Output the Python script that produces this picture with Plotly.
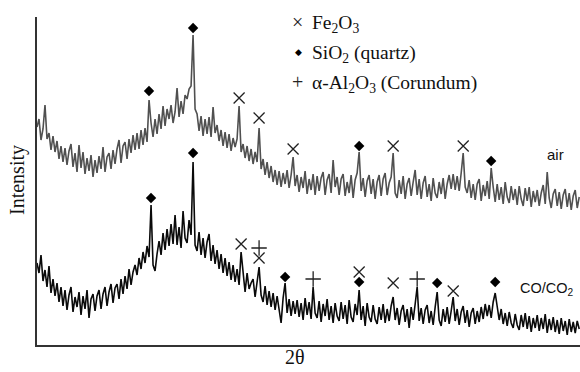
import numpy as np
import plotly.graph_objects as go

# scan grid (2-theta, degrees)
two_theta = np.linspace(10, 80, 272)

air = [
    218, 226, 205, 216, 240, 206, 212, 195, 209, 193,
    204, 186, 199, 183, 197, 180, 194, 201, 178, 192,
    173, 200, 177, 193, 171, 187, 174, 190, 168, 185,
    172, 189, 176, 198, 173, 188, 192, 176, 195, 181,
    196, 205, 182, 199, 203, 186, 206, 192, 210, 195,
    212, 196, 215, 200, 217, 203, 245, 222, 208, 226,
    211, 231, 216, 239, 219, 236, 226, 240, 222, 233,
    257, 228, 244, 231, 250, 246, 256, 259, 310, 236,
    231, 214, 229, 209, 226, 211, 228, 208, 238, 212,
    220, 204, 215, 199, 213, 197, 211, 194, 207, 198,
    206, 239, 193, 201, 187, 199, 184, 196, 181, 193,
    183, 217, 176, 186, 170, 183, 167, 179, 163, 175,
    160, 174, 158, 172, 161, 175, 157, 170, 188, 159,
    170, 153, 168, 157, 174, 151, 166, 155, 171, 150,
    169, 154, 167, 173, 150, 165, 171, 152, 185, 158,
    168, 150, 166, 171, 149, 163, 152, 170, 147, 165,
    172, 193, 154, 167, 148, 164, 170, 151, 166, 146,
    163, 170, 149, 166, 172, 150, 162, 168, 192, 152,
    147, 165, 151, 169, 146, 161, 167, 149, 163, 175,
    150, 166, 146, 162, 169, 148, 161, 144, 167, 152,
    147, 163, 151, 167, 146, 161, 170, 156, 171, 155,
    169, 154, 172, 192, 158, 152, 165, 147, 161, 145,
    161, 166, 144, 160, 149, 164, 146, 177, 158, 143,
    161, 145, 158, 141, 163, 148, 142, 159, 145, 156,
    140, 159, 146, 139, 157, 144, 158, 138, 154, 143,
    155, 139, 152, 160, 141, 173, 147, 137, 151, 156,
    139, 153, 136, 150, 156, 138, 152, 135, 149, 155,
    137, 148,
]

co_co2 = [
    82, 72, 90, 64, 75, 58, 79, 52, 66, 49,
    62, 43, 58, 39, 55, 35, 50, 58, 33, 48,
    38, 53, 30, 49, 36, 55, 27, 46, 51, 34,
    49, 55, 36, 51, 58, 39, 53, 61, 42, 57,
    61, 46, 66, 51, 69, 56, 76, 60, 73, 80,
    70, 87, 76, 93, 82, 99, 88, 140, 80, 74,
    91, 104, 90, 112, 95, 116, 99, 121, 101, 130,
    100, 118, 97, 134, 107, 102, 125, 110, 183, 100,
    94, 113, 90, 107, 87, 103, 111, 84, 100, 81,
    95, 76, 91, 72, 87, 69, 83, 65, 80, 63,
    76, 60, 93, 69, 53, 72, 56, 62, 66, 48,
    62, 78, 50, 43, 59, 40, 54, 38, 52, 35,
    49, 33, 22, 47, 62, 32, 46, 29, 44, 31,
    45, 28, 42, 25, 47, 30, 43, 26, 58, 32,
    27, 44, 23, 41, 29, 46, 25, 39, 22, 42,
    29, 24, 43, 26, 40, 21, 45, 28, 23, 41,
    30, 55, 25, 39, 19, 42, 28, 23, 40, 26,
    21, 38, 25, 41, 22, 36, 24, 39, 48, 25,
    37, 20, 34, 40, 23, 36, 17, 38, 25, 41,
    58, 24, 37, 21, 35, 40, 22, 34, 20, 38,
    53, 25, 19, 36, 23, 38, 21, 34, 48, 24,
    36, 20, 33, 39, 22, 35, 18, 32, 37, 21,
    34, 23, 38, 26, 41, 29, 40, 27, 43, 52,
    39, 25, 36, 21, 32, 19, 33, 22, 17, 31,
    20, 15, 30, 18, 32, 16, 29, 13, 27, 17,
    30, 14, 27, 16, 31, 12, 26, 15, 28, 13,
    25, 11, 27, 14, 24, 10, 26, 13, 23, 12,
    24, 16,
]

# phase markers: (2theta, height)
fe2o3_x = [36.09, 38.67, 43.06, 55.98, 65.02, 36.35, 38.67, 51.59, 55.98, 63.73]
fe2o3_y = [247, 227, 196, 199, 199, 101, 87, 73, 62, 54]
sio2_x = [24.46, 30.15, 51.59, 68.63, 24.72, 30.15, 42.03, 51.59, 61.66, 69.15]
sio2_y = [254, 317, 199, 184, 147, 192, 68, 63, 62, 63]
al2o3_x = [38.67, 45.65, 59.08]
al2o3_y = [97, 66, 66]

fig = go.Figure()
fig.add_trace(go.Scatter(x=two_theta, y=air, mode="lines",
                         line=dict(color="#505050", width=1.6), showlegend=False))
fig.add_trace(go.Scatter(x=two_theta, y=co_co2, mode="lines",
                         line=dict(color="#0a0a0a", width=1.6), showlegend=False))
fig.add_trace(go.Scatter(x=fe2o3_x, y=fe2o3_y, mode="markers", showlegend=False,
                         marker=dict(symbol="x-thin-open", size=11, color="#222",
                                     line=dict(color="#222", width=1.3))))
fig.add_trace(go.Scatter(x=sio2_x, y=sio2_y, mode="markers", showlegend=False,
                         marker=dict(symbol="diamond", size=8, color="#000")))
fig.add_trace(go.Scatter(x=al2o3_x, y=al2o3_y, mode="markers", showlegend=False,
                         marker=dict(symbol="cross-thin-open", size=11, color="#222",
                                     line=dict(color="#222", width=1.3))))

serif = "Liberation Serif, Times New Roman, serif"
sans = "Liberation Sans, Arial, sans-serif"

def px(xp):
    return (xp - 37) / 543

def py(yp):
    return (345 - yp) / 328

ann = [
    dict(x=px(17), y=py(180), text="Intensity", textangle=-90,
         font=dict(family=serif, size=20, color="#111")),
    dict(x=px(295), y=py(357), text="2θ", font=dict(family=serif, size=20, color="#111")),
    dict(x=px(297), y=py(22), text="×", font=dict(family=serif, size=20, color="#222")),
    dict(x=px(298), y=py(52), text="◆", font=dict(family="DejaVu Sans", size=9, color="#000")),
    dict(x=px(297), y=py(82), text="+", font=dict(family=serif, size=20, color="#222")),
    dict(x=px(310), y=py(24), text="Fe<sub>2</sub>O<sub>3</sub>", xanchor="left",
         font=dict(family=serif, size=19.5, color="#111")),
    dict(x=px(310), y=py(54), text="SiO<sub>2</sub> (quartz)", xanchor="left",
         font=dict(family=serif, size=19.5, color="#111")),
    dict(x=px(310), y=py(84), text="α-Al<sub>2</sub>O<sub>3</sub> (Corundum)", xanchor="left",
         font=dict(family=serif, size=19.5, color="#111")),
    dict(x=px(555), y=py(154), text="air", font=dict(family=sans, size=15, color="#111")),
    dict(x=px(547), y=py(289), text="CO/CO<sub>2</sub>", font=dict(family=sans, size=14.5, color="#111")),
]
for a in ann:
    a.update(xref="paper", yref="paper", showarrow=False)
    a.setdefault("xanchor", "center")
    a.setdefault("yanchor", "middle")

fig.update_layout(
    width=580, height=372,
    margin=dict(l=37, r=0, t=17, b=27),
    paper_bgcolor="white", plot_bgcolor="white",
    annotations=ann,
    xaxis=dict(range=[10, 80.1], showline=True, linecolor="#333", linewidth=2,
               showticklabels=False, ticks="", showgrid=False, zeroline=False),
    yaxis=dict(range=[0, 328], showline=True, linecolor="#333", linewidth=2,
               showticklabels=False, ticks="", showgrid=False, zeroline=False),
)

fig.write_html("out.html", config={"displayModeBar": False},
               post_script="document.body.style.margin='0';")
